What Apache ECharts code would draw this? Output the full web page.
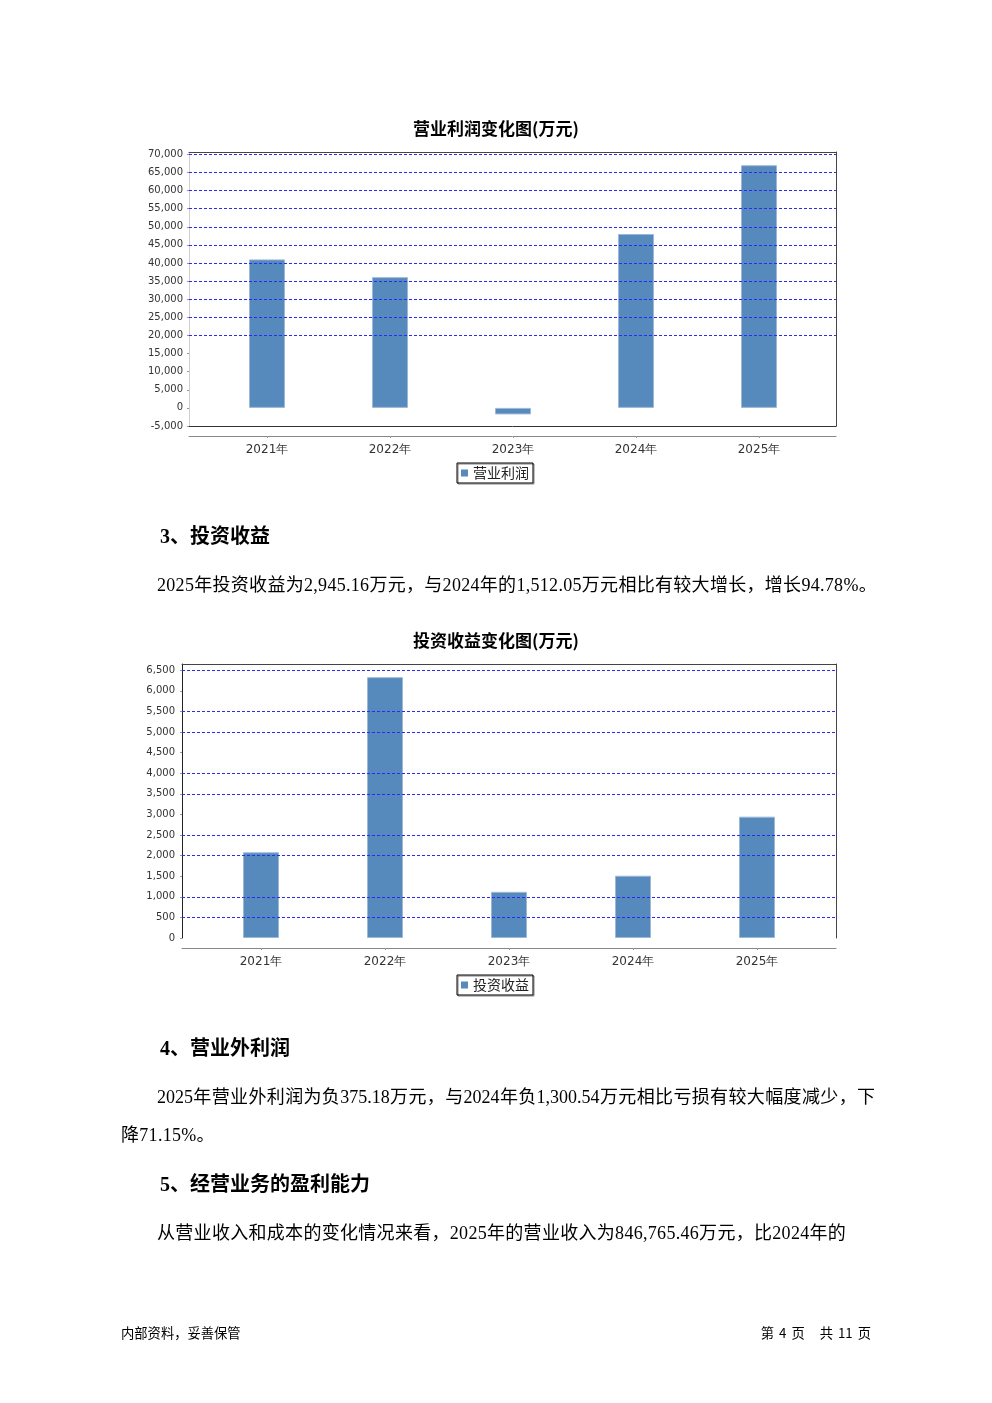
<!DOCTYPE html>
<html>
<head>
<meta charset="utf-8">
<script src="https://cdn.jsdelivr.net/npm/echarts@6/dist/echarts.min.js"></script>
<style>
  html, body { margin: 0; padding: 0; background: #fff; }
  #page { position: relative; width: 992px; height: 1403px; overflow: hidden; }
  #chart { position: absolute; left: 0; top: 0; width: 992px; height: 1403px; }
  .t { position: absolute; white-space: nowrap; color: #000; line-height: 24px; height: 24px; }
  .h { font-family: "Liberation Serif", "Noto Sans CJK SC", serif; font-weight: bold; font-size: 20px; }
  .p { font-family: "Liberation Serif", "Noto Sans CJK SC", serif; font-size: 18px; letter-spacing: 0.3px; }
  .f { font-family: "Noto Sans CJK SC", sans-serif; font-size: 13.3px; }
</style>
</head>
<body>
<div id="page">
  <div id="chart"></div>
  <div class="t h" style="left:160px; top:524px;">3、投资收益</div>
  <div class="t p" style="left:157px; top:573px;">2025年投资收益为2,945.16万元，与2024年的1,512.05万元相比有较大增长，增长94.78%。</div>
  <div class="t h" style="left:160px; top:1036px;">4、营业外利润</div>
  <div class="t p" style="left:157px; top:1085px; width:718px; text-align:justify; text-align-last:justify; letter-spacing:0;">2025年营业外利润为负375.18万元，与2024年负1,300.54万元相比亏损有较大幅度减少，下</div>
  <div class="t p" style="left:121px; top:1123px;">降71.15%。</div>
  <div class="t h" style="left:160px; top:1172px;">5、经营业务的盈利能力</div>
  <div class="t p" style="left:157px; top:1221px;">从营业收入和成本的变化情况来看，2025年的营业收入为846,765.46万元，比2024年的</div>
  <div class="t f" style="left:121px; top:1321px;">内部资料，妥善保管</div>
  <div class="t f" style="right:121px; top:1321px; word-spacing:2px;">第 4 页&nbsp;&nbsp;&nbsp;共 11 页</div>
</div>
<script>
// ---------- data ----------
const categories = ['2021年', '2022年', '2023年', '2024年', '2025年'];
const operatingProfit = [41000, 36100, -1800, 48000, 67000];      // 营业利润 (万元)
const investmentIncome = [2080, 6330, 1120, 1512.05, 2945.16];     // 投资收益 (万元)
const profitGridValues = [70000, 65000, 60000, 55000, 50000, 45000, 40000, 35000, 30000, 25000, 20000];
const incomeGridValues = [6500, 5500, 5000, 4000, 3500, 2500, 2000, 1000, 500];
const titles = ['营业利润变化图(万元)', '投资收益变化图(万元)'];
const seriesNames = ['营业利润', '投资收益'];

// ---------- styles ----------
const barColor = '#5689bc';
const gridLineStyle = { type: [3, 2], color: '#2a2af5', width: 1 };
const fmt = v => Number(v).toLocaleString('en-US');
const none = { show: false };

function frameAxisX(grid, position, offset, color) {
  return { gridIndex: grid, type: 'value', min: 0, max: 1, position, offset,
    axisLine: { show: true, onZero: false, lineStyle: { color, width: 1 } },
    axisTick: none, axisLabel: none, splitLine: none };
}
function catAxis(grid) {
  return { gridIndex: grid, type: 'category', data: categories, position: 'bottom', offset: 10,
    axisLine: { show: false, onZero: false },
    axisTick: { show: true, alignWithLabel: true, length: 2, lineStyle: { color: '#999' } },
    axisLabel: { margin: 8, fontSize: 12, color: '#333', fontFamily: 'DejaVu Sans' },
    splitLine: none };
}
function valAxisLeft(grid, min, max, interval, lineColor, margin) {
  return { gridIndex: grid, type: 'value', min, max, interval, position: 'left',
    axisLine: { show: true, onZero: false, lineStyle: { color: lineColor, width: 1 } },
    axisTick: { show: true, length: 2, lineStyle: { color: '#999' } },
    axisLabel: { show: true, margin, fontSize: 10, color: '#333', fontFamily: 'DejaVu Sans',
      showMaxLabel: false, formatter: fmt },
    splitLine: none };
}
function valAxisPlain(grid, min, max, interval, position, showLine) {
  return { gridIndex: grid, type: 'value', min, max, interval, position,
    axisLine: { show: showLine, onZero: false, lineStyle: { color: '#444', width: 1 } },
    axisTick: none, axisLabel: none, splitLine: none };
}
function legendFor(name, top) {
  return { data: [name], left: 457, top, padding: [3, 4, 3, 4], icon: 'rect',
    itemWidth: 7, itemHeight: 7, itemGap: 0, borderColor: '#000', borderWidth: 1,
    itemStyle: { borderWidth: 0 },
    shadowColor: 'rgba(0,0,0,0.5)', shadowOffsetX: 1, shadowOffsetY: 1, shadowBlur: 0,
    textStyle: { fontSize: 14, color: '#222', fontFamily: 'Noto Sans CJK SC' } };
}

const chart = echarts.init(document.getElementById('chart'), null, { renderer: 'canvas' });
const option = {
  animation: false,
  backgroundColor: '#fff',
  title: [
    { text: titles[0], left: 'center', top: 120, padding: 0,
      textStyle: { fontSize: 17, fontWeight: 'bold', color: '#000', fontFamily: 'Noto Sans CJK SC' } },
    { text: titles[1], left: 'center', top: 632, padding: 0,
      textStyle: { fontSize: 17, fontWeight: 'bold', color: '#000', fontFamily: 'Noto Sans CJK SC' } }
  ],
  legend: [legendFor(seriesNames[0], 463), legendFor(seriesNames[1], 975)],
  grid: [
    { left: 189, top: 152, width: 647, height: 274, containLabel: false },   // 0 frame chart 1
    { left: 205.5, top: 152, width: 615, height: 274, containLabel: false }, // 1 data chart 1
    { left: 182, top: 664, width: 654, height: 274, containLabel: false },   // 2 frame chart 2
    { left: 199, top: 664, width: 620, height: 274, containLabel: false }    // 3 data chart 2
  ],
  xAxis: [
    frameAxisX(0, 'top', 0, '#444'),      // 0
    frameAxisX(0, 'bottom', 0, '#333'),   // 1
    frameAxisX(0, 'bottom', 10, '#888'),  // 2
    catAxis(1),                           // 3
    frameAxisX(2, 'top', 0, '#444'),      // 4
    frameAxisX(2, 'bottom', 10, '#888'),  // 5
    catAxis(3)                            // 6
  ],
  yAxis: [
    valAxisLeft(0, -5000, 70650, 5000, '#cfcfcf', 6),       // 0
    valAxisPlain(0, -5000, 70650, 5000, 'right', true),     // 1
    valAxisPlain(1, -5000, 70650, 5000, 'left', false),     // 2
    valAxisLeft(2, 0, 6650, 500, '#222', 7),                // 3
    valAxisPlain(2, 0, 6650, 500, 'right', true),           // 4
    valAxisPlain(3, 0, 6650, 500, 'left', false)            // 5
  ],
  series: [
    { type: 'line', xAxisIndex: 0, yAxisIndex: 0, data: [], z: 1, silent: true,
      markLine: { silent: true, symbol: 'none', label: none, lineStyle: gridLineStyle,
        emphasis: { disabled: true }, data: profitGridValues.map(v => ({ yAxis: v })) } },
    { type: 'bar', name: seriesNames[0], xAxisIndex: 3, yAxisIndex: 2, data: operatingProfit,
      barWidth: 36, z: 3, itemStyle: { color: barColor, borderColor: '#9db8d6', borderWidth: 1 } },
    { type: 'line', xAxisIndex: 4, yAxisIndex: 3, data: [], z: 1, silent: true,
      markLine: { silent: true, symbol: 'none', label: none, lineStyle: gridLineStyle,
        emphasis: { disabled: true }, data: incomeGridValues.map(v => ({ yAxis: v })) } },
    { type: 'bar', name: seriesNames[1], xAxisIndex: 6, yAxisIndex: 5, data: investmentIncome,
      barWidth: 36, z: 3, itemStyle: { color: barColor, borderColor: '#9db8d6', borderWidth: 1 } }
  ]
};
chart.setOption(option);
</script>
</body>
</html>
